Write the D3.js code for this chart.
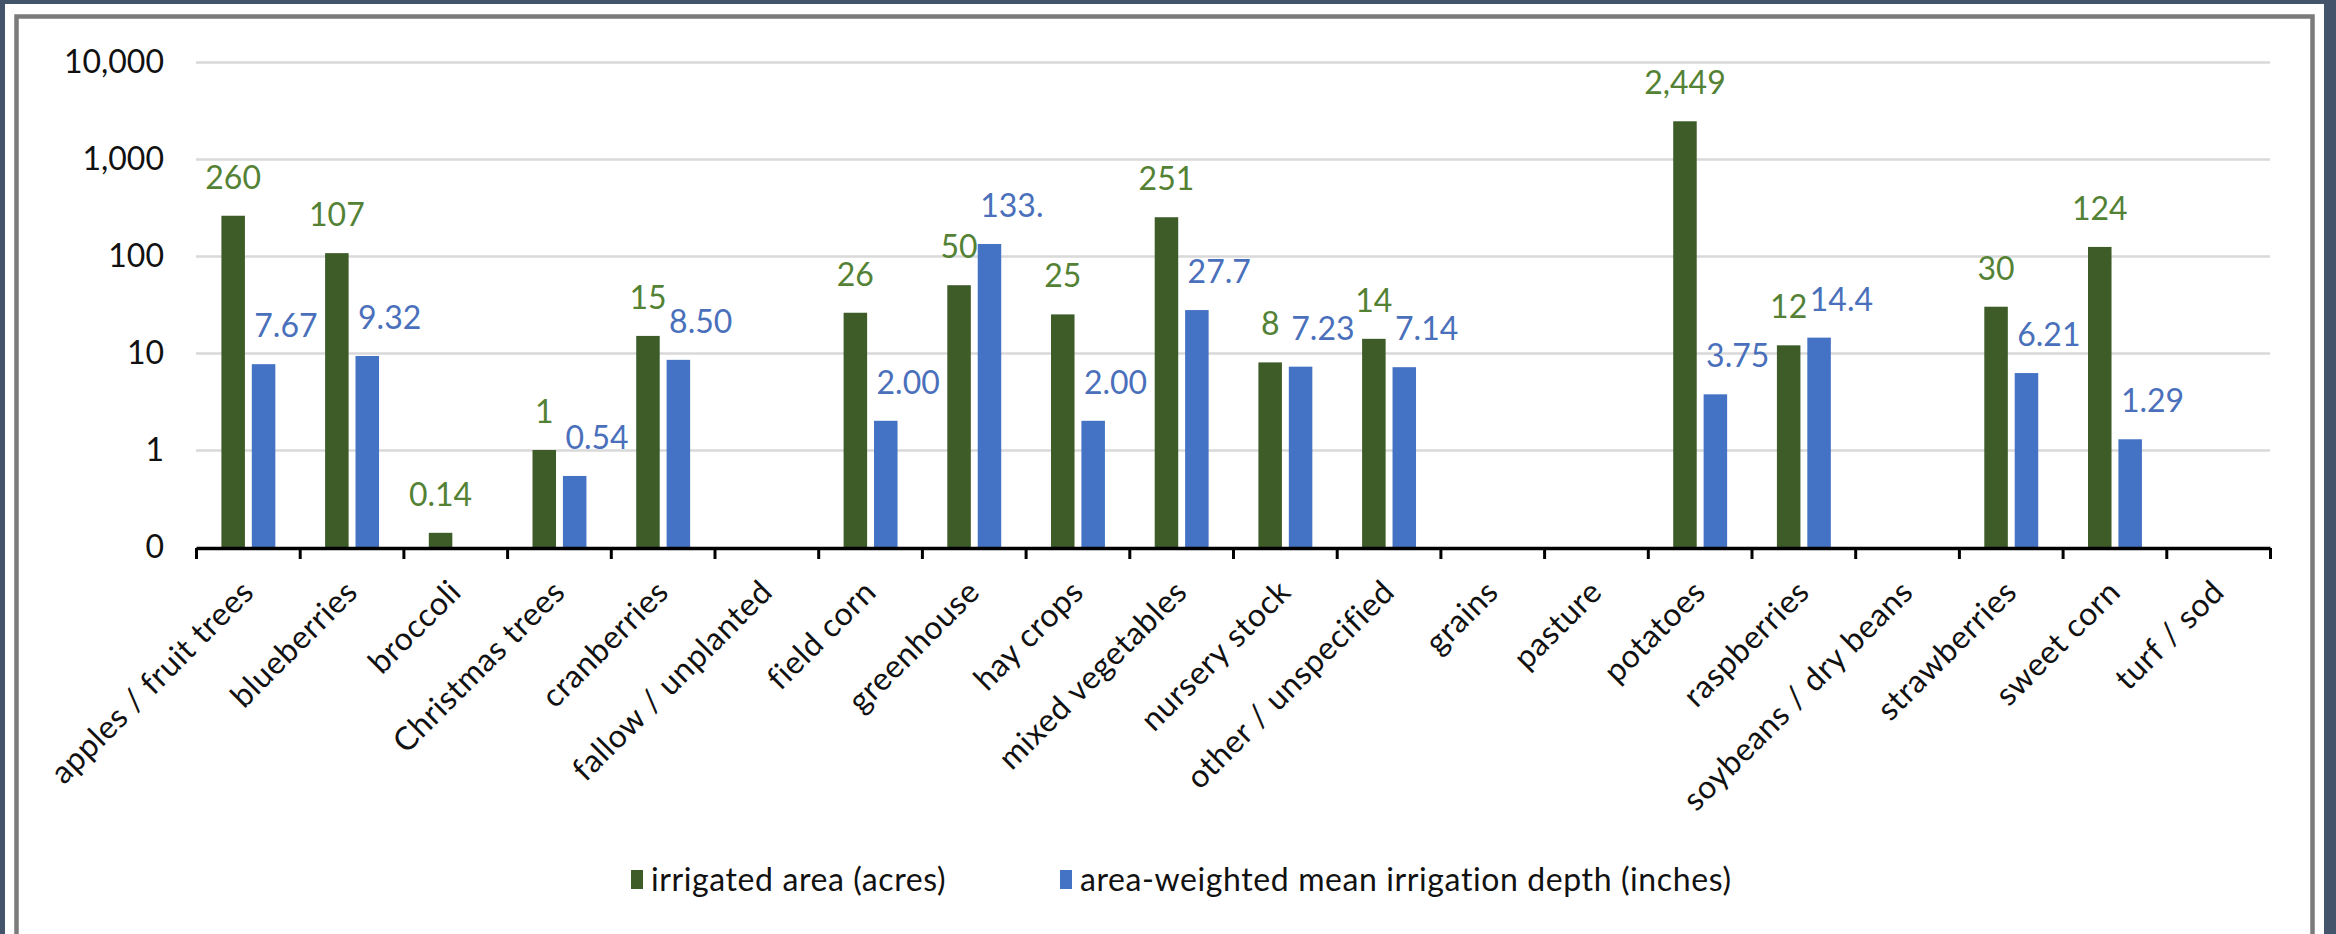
<!DOCTYPE html>
<html>
<head>
<meta charset="utf-8">
<script src="https://cdn.jsdelivr.net/npm/d3@7"></script>
<style>
  html, body { margin: 0; padding: 0; background: #44546a; }
  svg { display: block; }
  text { font-family: Lato, "Open Sans", sans-serif; font-variant-ligatures: none; font-feature-settings: "liga" 0, "clig" 0; }
</style>
</head>
<body>
<svg id="chart" width="2336" height="934"></svg>
<script>
// ---------------- data ----------------
const categories = ["apples / fruit trees", "blueberries", "broccoli", "Christmas trees", "cranberries",
  "fallow / unplanted", "field corn", "greenhouse", "hay crops", "mixed vegetables", "nursery stock",
  "other / unspecified", "grains", "pasture", "potatoes", "raspberries", "soybeans / dry beans",
  "strawberries", "sweet corn", "turf / sod"];

const irrigatedArea = [260, 107, 0.14, 1, 15, null, 26, 50, 25, 251, 8, 14, null, null, 2449, 12, null, 30, 124, null];
const irrigationDepth = [7.67, 9.32, null, 0.54, 8.50, null, 2.00, 133, 2.00, 27.7, 7.23, 7.14, null, null, 3.75, 14.4, null, 6.21, 1.29, null];

const areaLabels = ["260", "107", "0.14", "1", "15", null, "26", "50", "25", "251", "8", "14", null, null, "2,449", "12", null, "30", "124", null];
const depthLabels = ["7.67", "9.32", null, "0.54", "8.50", null, "2.00", "133.", "2.00", "27.7", "7.23", "7.14", null, null, "3.75", "14.4", null, "6.21", "1.29", null];

const yTickValues = [0.1, 1, 10, 100, 1000, 10000];
const yTickLabels = ["0", "1", "10", "100", "1,000", "10,000"];

const seriesNames = ["irrigated area (acres)", "area-weighted mean irrigation depth (inches)"];
const seriesColors = ["#3d5c27", "#4472c4"];
const labelColors = ["#548235", "#4a70bb"];

// ---------------- layout ----------------
const W = 2336, H = 934;
const plotLeft = 196, plotRight = 2270, plotTop = 62, plotBottom = 547;

const svg = d3.select("#chart");

// background frame
svg.append("rect").attr("x", 0).attr("y", 0).attr("width", W).attr("height", H).attr("fill", "#44546a");
svg.append("rect").attr("x", 5).attr("y", 4).attr("width", 2319).attr("height", H).attr("fill", "#ffffff");
svg.append("rect").attr("x", 16.5).attr("y", 16.5).attr("width", 2296).attr("height", 1000)
  .attr("fill", "none").attr("stroke", "#7b7b7b").attr("stroke-width", 4.5);

// scales
const x = d3.scaleBand().domain(categories).range([plotLeft, plotRight]).paddingInner(0).paddingOuter(0);
const bw = x.bandwidth();
const xs = d3.scaleBand().domain([0, 1]).range([bw * 0.245, bw * 0.765]).paddingInner(0.227).paddingOuter(0);
const y = d3.scaleLog().domain([0.1, 10000]).range([plotBottom, plotTop]);
const xEdge = d3.scaleLinear().domain([0, categories.length]).range([plotLeft, plotRight]);

// gridlines
const grid = svg.append("g").attr("transform", `translate(${plotLeft},0)`)
  .call(d3.axisLeft(y).tickValues(yTickValues.slice(1)).tickSize(-(plotRight - plotLeft)).tickFormat(""));
grid.select(".domain").remove();
grid.selectAll("line").attr("stroke", "#d9d9d9").attr("stroke-width", 2.5);

// y-axis labels
const yAxis = svg.append("g").attr("transform", `translate(${plotLeft - 32},0)`)
  .call(d3.axisLeft(y).tickValues(yTickValues).tickSize(0).tickPadding(0)
    .tickFormat((d, i) => yTickLabels[i]));
yAxis.select(".domain").remove();
yAxis.selectAll("text").attr("font-size", 32).attr("fill", "#111").attr("font-family", "Lato");

// bars
const seriesData = [irrigatedArea, irrigationDepth];
seriesData.forEach((vals, s) => {
  svg.append("g").selectAll("rect")
    .data(vals.map((v, i) => ({ v, c: categories[i] })).filter(d => d.v != null))
    .join("rect")
    .attr("x", d => x(d.c) + xs(s))
    .attr("width", xs.bandwidth())
    .attr("y", d => y(d.v))
    .attr("height", d => y(0.1) - y(d.v))
    .attr("fill", seriesColors[s]);
});

// data labels
const labelSets = [areaLabels, depthLabels];
labelSets.forEach((labs, s) => {
  const vals = seriesData[s];
  svg.append("g").selectAll("text")
    .data(labs.map((t, i) => ({ t, v: vals[i], c: categories[i] })).filter(d => d.t != null))
    .join("text")
    .attr("x", d => s === 0 ? x(d.c) + xs(s) + xs.bandwidth() / 2 : x(d.c) + xs(s) + 2.5)
    .attr("y", d => y(d.v) - 27)
    .attr("text-anchor", s === 0 ? "middle" : "start")
    .attr("font-size", 32)
    .attr("fill", labelColors[s])
    .text(d => d.t);
});

// x axis with ticks at category boundaries
const xAxis = svg.append("g").attr("transform", `translate(0,${plotBottom + 1})`)
  .call(d3.axisBottom(xEdge).tickValues(d3.range(categories.length + 1)).tickSize(11).tickSizeOuter(0).tickFormat(""));
xAxis.select(".domain").attr("stroke", "#000").attr("stroke-width", 3.5);
xAxis.selectAll(".tick line").attr("stroke", "#000").attr("stroke-width", 3);

// category labels
svg.append("g").selectAll("text")
  .data(categories)
  .join("text")
  .attr("transform", d => `translate(${x(d) + bw / 2},586) rotate(-45)`)
  .attr("text-anchor", "end")
  .attr("dy", "0.35em")
  .attr("font-size", 32)
  .attr("letter-spacing", 0.6)
  .attr("fill", "#111")
  .text(d => d);

// legend
const legendX = [631, 1060];
const legend = svg.append("g");
seriesNames.forEach((name, i) => {
  legend.append("rect").attr("x", legendX[i]).attr("y", 870).attr("width", 12).attr("height", 19)
    .attr("fill", seriesColors[i]);
  legend.append("text").attr("x", legendX[i] + 20).attr("y", 880).attr("dy", "0.35em")
    .attr("font-size", 32).attr("letter-spacing", 0.6).attr("fill", "#111").text(name);
});
</script>
</body>
</html>
